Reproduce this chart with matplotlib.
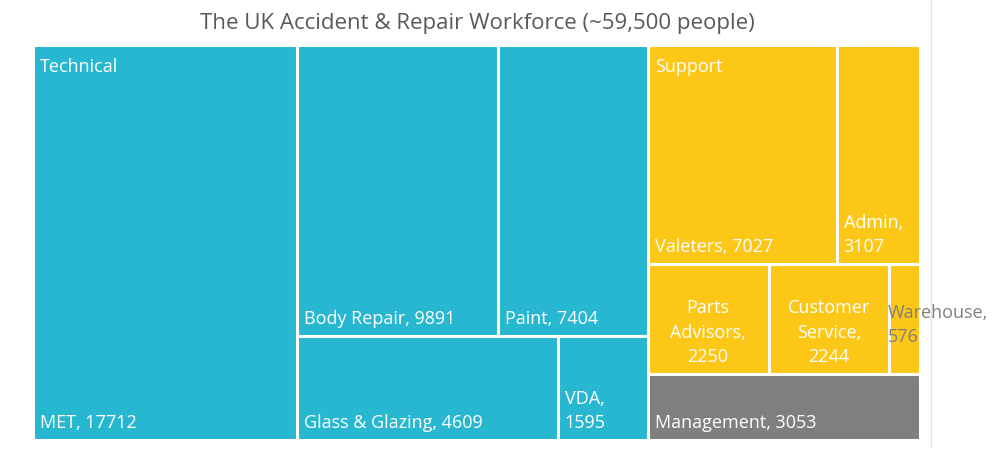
import matplotlib.pyplot as plt
from matplotlib.patches import Rectangle

# workforce numbers by role
names = ["MET", "Body Repair", "Paint", "Glass & Glazing", "VDA",
         "Valeters", "Admin", "Parts Advisors", "Customer Service", "Warehouse",
         "Management"]
values = [17712, 9891, 7404, 4609, 1595,
          7027, 3107, 2250, 2244, 576,
          3053]
groups = ["Technical"] * 5 + ["Support"] * 5 + ["Management"]
labels = ["MET, 17712", "Body Repair, 9891", "Paint, 7404", "Glass & Glazing, 4609",
          "VDA,\n1595", "Valeters, 7027", "Admin,\n3107", "Parts\nAdvisors,\n2250",
          "Customer\nService,\n2244", "Warehouse,\n576", "Management, 3053"]

group_colors = {"Technical": "#27B7D1", "Support": "#FCC716", "Management": "#7F7F7F"}

# layout tree: ("h"|"v", children), leaves are indices into names
tree = ("h", [
    ("h", [0, ("v", [("h", [1, 2]), ("h", [3, 4])])]),
    ("v", [("v", [("h", [5, 6]), ("h", [7, 8, 9])]), 10]),
])


def total(node):
    if isinstance(node, int):
        return values[node]
    return sum(total(c) for c in node[1])


rects = {}


def layout(node, x, y, w, h):
    if isinstance(node, int):
        rects[node] = (x, y, w, h)
        return
    direction, children = node
    s = total(node)
    pos_x, pos_y = x, y + h
    for c in children:
        frac = total(c) / s
        if direction == "h":
            layout(c, pos_x, y, w * frac, h)
            pos_x += w * frac
        else:
            pos_y -= h * frac
            layout(c, x, pos_y, w, h * frac)


layout(tree, 0, 0, 1, 1)

plt.rcParams["font.family"] = ["Open Sans", "DejaVu Sans"]

fig = plt.figure(figsize=(9.95, 4.62), dpi=100)
ax = fig.add_axes([33 / 995, 22 / 462, 887 / 995, 395 / 462])
ax.set_xlim(0, 1)
ax.set_ylim(0, 1)
ax.axis("off")

W, H = 887, 395
pad_x = 7 / W
pad_y = 8 / H
fs = 13
ls = 1.45

for i, (x, y, w, h) in rects.items():
    ax.add_patch(Rectangle((x, y), w, h, facecolor=group_colors[groups[i]],
                           edgecolor="white", linewidth=2.2))
    lab = labels[i]
    if names[i] in ("Parts Advisors", "Customer Service"):
        ax.text(x + w / 2, y + pad_y, lab, ha="center", va="bottom",
                color="white", fontsize=fs, linespacing=ls)
    elif names[i] == "Warehouse":
        ax.text(x - 1 / W, y + h / 2 - 6 / H, lab, ha="left", va="center",
                color="#7F7F7F", fontsize=fs, linespacing=ls, clip_on=False)
    else:
        ax.text(x + pad_x, y + pad_y, lab, ha="left", va="bottom",
                color="white", fontsize=fs, linespacing=ls)

# group headers
for g in ["Technical", "Support"]:
    idx = [i for i in rects if groups[i] == g]
    gx = min(rects[i][0] for i in idx)
    gy = max(rects[i][1] + rects[i][3] for i in idx)
    ax.text(gx + pad_x, gy - 13 / H, g, ha="left", va="top",
            color="white", fontsize=fs)

fig.text(477 / 995, 1 - 23 / 462, "The UK Accident & Repair Workforce (~59,500 people)",
         ha="center", va="center", color="#595959", fontsize=16)

fig.add_artist(plt.Line2D([931 / 995, 931 / 995], [1 - 447 / 462, 1], color="#E6E6E6",
                          linewidth=1, transform=fig.transFigure))

fig.savefig("out.png", dpi=100)
plt.close(fig)
